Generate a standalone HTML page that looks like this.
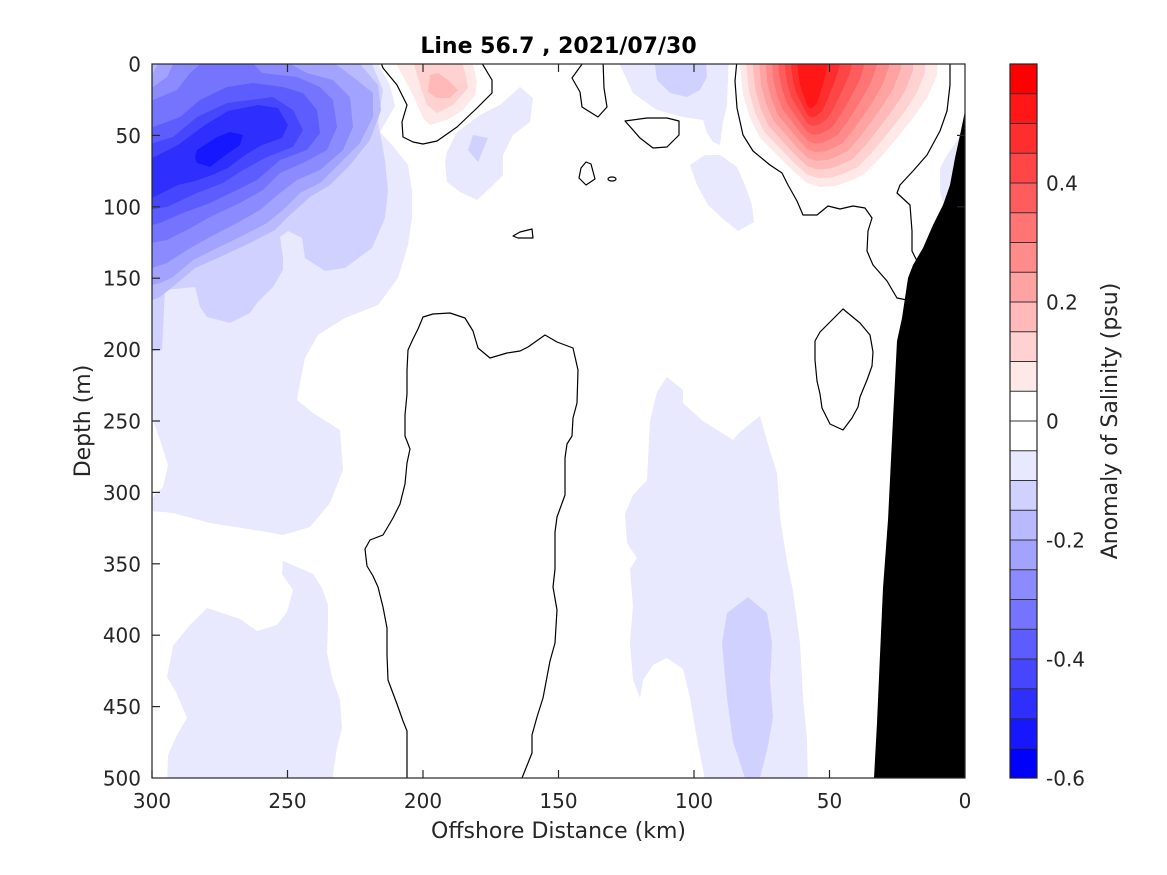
<!DOCTYPE html>
<html><head><meta charset="utf-8"><style>
html,body{margin:0;padding:0;background:#fff;}
svg{display:block;}
text{font-family:"DejaVu Sans","Liberation Sans",sans-serif;fill:#262626;}
</style></head><body>
<svg width="1167" height="875" viewBox="0 0 1167 875" xmlns="http://www.w3.org/2000/svg">
<defs>
<clipPath id="ax"><rect x="152" y="64" width="813" height="714"/></clipPath>
<path id="rb" d="M738,50 L740,65 743,95 750,118 760,138 777,155 793,171 807,183 820,187 835,186 847,182 863,175 880,158 897,138 913,118 927,98 937,75 938,50 Z"/>
</defs>
<rect width="1167" height="875" fill="#fff"/>
<g clip-path="url(#ax)">
<!-- upper-left blue blob -->
<polygon fill="#e8e8ff" points="140,50 376,50 378,64 390,85 395,106 380,132 392,145 408,165 412,191 412,218 408,245 398,278 378,305 345,318 318,335 305,358 300,383 297,400 313,413 340,430 343,470 330,503 310,527 283,535 267,532 210,523 173,513 140,510"/>
<polygon fill="#fff" points="140,418 153,420 160,440 168,465 163,487 153,497 140,497"/>
<polygon fill="#d1d1ff" points="140,50 370,50 372,64 383,90 378,122 385,160 388,191 385,218 372,248 345,268 325,271 305,258 302,238 288,231 280,237 283,257 283,270 273,287 257,303 250,313 230,323 207,317 200,307 195,287 165,290 162,350 140,353"/>
<polygon fill="#b9b9ff" points="140,50 358,50 360,64 378,85 381,110 370,140 350,165 330,185 310,197 290,215 275,230 250,243 220,257 195,268 175,285 160,297 140,305"/>
<polygon fill="#a2a2ff" points="140,75 153,73 160,60 330,60 353,77 373,93 373,117 360,143 340,163 320,183 300,193 283,210 267,223 240,237 213,250 193,260 173,277 160,283 140,288"/>
<polygon fill="#8b8bff" points="140,88 153,87 167,77 175,60 283,60 307,73 333,80 350,97 353,127 343,150 320,170 297,180 280,193 260,210 237,223 210,237 187,250 167,263 140,272"/>
<polygon fill="#7474ff" points="140,101 153,100 177,90 190,73 205,60 250,60 262,73 297,77 320,87 333,100 337,127 327,150 303,163 280,173 263,190 240,203 210,217 187,230 167,240 140,245"/>
<polygon fill="#5d5dff" points="140,128 153,127 180,117 200,100 227,87 253,83 283,87 303,93 317,110 320,133 307,150 280,160 257,180 237,190 210,203 183,213 160,223 140,228"/>
<polygon fill="#4646ff" points="140,144 153,143 173,137 197,117 227,103 250,100 273,97 293,110 303,130 293,147 267,157 243,170 223,183 197,193 167,207 140,211"/>
<polygon fill="#2e2eff" points="140,158 152,158 178,145 205,125 228,111 258,105 278,108 288,125 282,138 262,145 245,155 228,168 212,175 195,181 178,185 152,198 140,200"/>
<polygon fill="#1717ff" points="195,157 197,150 217,137 230,132 243,135 240,145 223,157 210,167 197,163"/>
<!-- lower-left light blue -->
<polygon fill="#e8e8ff" points="283,561 297,567 313,574 322,588 328,605 328,625 327,653 332,677 340,700 342,728 337,748 333,774 332,790 167,790 168,755 177,735 187,718 177,694 167,677 173,646 190,625 207,608 240,619 257,631 277,625 287,612 293,590 282,574"/>
<!-- region 2 -->
<polygon fill="#e8e8ff" points="447,152 457,132 480,115 500,105 520,87 533,98 530,122 513,135 503,155 503,175 490,188 477,200 460,192 447,182 445,162"/>
<polygon fill="#d1d1ff" points="468,150 473,135 488,138 478,162"/>
<!-- region 3 -->
<polygon fill="#e8e8ff" points="617,50 620,65 633,93 657,110 683,117 703,120 707,133 713,142 720,145 723,122 727,105 729,50"/>
<polygon fill="#d1d1ff" points="653,50 657,80 670,93 687,97 700,90 707,77 705,50"/>
<!-- region 4 -->
<polygon fill="#e8e8ff" points="690,165 705,155 720,155 737,167 745,185 752,205 754,222 738,231 722,218 708,205 697,185"/>
<!-- region near seafloor -->
<polygon fill="#e8e8ff" points="940,168 947,155 957,141 962,130 955,158 950,185 943,203 940,191"/>
<!-- region 6 middle-bottom -->
<polygon fill="#e8e8ff" points="667,377 683,390 683,403 703,421 733,440 740,432 760,416 770,451 777,473 780,517 787,562 793,591 800,643 803,698 807,739 808,790 707,790 697,739 690,698 683,669 667,658 653,665 643,680 640,698 633,680 630,643 633,606 630,569 637,558 627,543 625,514 633,495 647,480 650,421 657,392"/>
<polygon fill="#d1d1ff" points="748,597 767,613 772,643 770,680 773,717 768,746 760,778 760,790 745,790 745,778 733,742 727,698 722,643 727,613"/>
<!-- red blob 1 -->
<polygon fill="#ffe8e8" points="397,50 397,65 413,95 423,118 430,125 447,120 463,110 475,95 477,82 470,50"/>
<polygon fill="#ffd1d1" points="410,50 420,85 427,105 437,113 453,105 468,88 465,72 458,50"/>
<polygon fill="#ffb9b9" points="430,75 428,92 437,98 450,98 458,90 448,80 438,73"/>
<!-- red blob 2 -->
<use href="#rb" fill="#ffe8e8"/>
<use href="#rb" fill="#ffd1d1" transform="translate(75.14,2.37) scale(0.907,0.9407)"/>
<use href="#rb" fill="#ffb9b9" transform="translate(150.29,4.74) scale(0.814,0.8814)"/>
<use href="#rb" fill="#ffa2a2" transform="translate(225.43,7.12) scale(0.721,0.8221)"/>
<use href="#rb" fill="#ff8b8b" transform="translate(300.58,9.49) scale(0.628,0.7628)"/>
<use href="#rb" fill="#ff7474" transform="translate(375.72,11.86) scale(0.535,0.7035)"/>
<use href="#rb" fill="#ff5d5d" transform="translate(450.86,14.23) scale(0.442,0.6442)"/>
<use href="#rb" fill="#ff4646" transform="translate(526.01,16.60) scale(0.349,0.5849)"/>
<use href="#rb" fill="#ff2e2e" transform="translate(601.15,18.98) scale(0.256,0.5256)"/>
<use href="#rb" fill="#ff1717" transform="translate(676.30,21.35) scale(0.163,0.4663)"/>
<!-- seafloor -->
<polygon fill="#000" points="965,111 960,135 955,158 950,185 943,205 933,225 923,248 913,265 908,278 905,298 902,318 897,341 893,419 888,520 883,588 880,655 877,723 874,778 874,790 970,790 970,111"/>
<!-- contours -->
<g fill="none" stroke="#000" stroke-width="1.2" stroke-linejoin="round">
<polyline points="380,60 383,68 397,85 407,105 402,122 403,137 413,142 423,144 437,141 457,127 477,108 492,93 492,80 480,60"/>
<polyline points="585,60 572,78 580,92 582,107 598,117 607,107 604,88 603,60"/>
<polygon points="625,121 647,118 667,118 679,121 679,135 667,147 653,148 640,138 633,130"/>
<polygon points="586,162 591,164 595,179 586,185 579,178 581,168"/>
<ellipse cx="612" cy="179" rx="4" ry="2"/>
<polygon points="513,236 520,232 532,229 533,238 518,238"/>
<polyline points="737,60 735,81 737,108 743,135 753,151 770,165 782,173 788,185 797,201 803,215 817,215 828,206 840,209 853,206 865,208 872,218 868,231 867,251 873,265 887,281 897,298 907,300"/>
<polyline points="917,261 912,251 912,231 910,205 897,193 900,185 913,171 927,155 940,131 947,111 950,85 950,60"/>
<polygon points="843,309 860,323 870,335 873,352 872,366 867,380 860,397 858,407 852,418 843,430 830,424 822,408 820,394 817,381 815,360 815,341 820,332 833,319"/>
<polyline points="407,790 407,731 403,721 397,704 388,680 387,655 387,628 383,607 378,587 373,576 367,566 365,549 370,540 383,535 393,518 400,504 405,484 407,463 410,449 405,436 405,415 407,394 407,370 408,350 413,339 418,329 423,317 433,314 450,313 465,318 473,331 478,348 490,358 507,353 520,351 528,347 545,335 557,342 573,348 578,370 577,403 573,418 572,436 567,444 565,458 565,495 557,517 555,532 555,569 553,587 557,610 555,643 550,661 543,698 537,717 532,735 532,753 522,778 518,790"/>
</g>
</g>
<!-- axes box -->
<rect x="152" y="64" width="813" height="714" fill="none" stroke="#262626" stroke-width="1.2"/>
<g stroke="#262626" stroke-width="1.2">
<line x1="152" y1="778" x2="152" y2="770"/><line x1="287.5" y1="778" x2="287.5" y2="770"/><line x1="423" y1="778" x2="423" y2="770"/><line x1="558.5" y1="778" x2="558.5" y2="770"/><line x1="694" y1="778" x2="694" y2="770"/><line x1="829.5" y1="778" x2="829.5" y2="770"/>
<line x1="287.5" y1="64" x2="287.5" y2="72"/><line x1="423" y1="64" x2="423" y2="72"/><line x1="558.5" y1="64" x2="558.5" y2="72"/><line x1="694" y1="64" x2="694" y2="72"/><line x1="829.5" y1="64" x2="829.5" y2="72"/>
<line x1="152" y1="135.4" x2="160" y2="135.4"/><line x1="152" y1="206.8" x2="160" y2="206.8"/><line x1="152" y1="278.2" x2="160" y2="278.2"/><line x1="152" y1="349.6" x2="160" y2="349.6"/><line x1="152" y1="421" x2="160" y2="421"/><line x1="152" y1="492.4" x2="160" y2="492.4"/><line x1="152" y1="563.8" x2="160" y2="563.8"/><line x1="152" y1="635.2" x2="160" y2="635.2"/><line x1="152" y1="706.6" x2="160" y2="706.6"/>
<line x1="965" y1="135.4" x2="957" y2="135.4"/><line x1="965" y1="206.8" x2="957" y2="206.8"/>
</g>
<!-- tick labels -->
<g font-size="20" text-anchor="middle">
<text x="152" y="808">300</text><text x="287.5" y="808">250</text><text x="423" y="808">200</text><text x="558.5" y="808">150</text><text x="694" y="808">100</text><text x="829.5" y="808">50</text><text x="965" y="808">0</text>
</g>
<g font-size="20" text-anchor="end">
<text x="141" y="71.5">0</text><text x="141" y="142.9">50</text><text x="141" y="214.3">100</text><text x="141" y="285.7">150</text><text x="141" y="357.1">200</text><text x="141" y="428.5">250</text><text x="141" y="499.9">300</text><text x="141" y="571.3">350</text><text x="141" y="642.7">400</text><text x="141" y="714.1">450</text><text x="141" y="785.5">500</text>
</g>
<text x="558.5" y="838" font-size="22" text-anchor="middle">Offshore Distance (km)</text>
<text transform="translate(90,421) rotate(-90)" font-size="22" text-anchor="middle">Depth (m)</text>
<text x="558.5" y="53" font-size="22" font-weight="bold" text-anchor="middle" style="fill:#000">Line 56.7 , 2021/07/30</text>
<!-- colorbar -->
<g>
<rect x="1010" y="64" width="27" height="29.75" fill="#ff0000"/>
<rect x="1010" y="93.75" width="27" height="29.75" fill="#ff1717"/>
<rect x="1010" y="123.5" width="27" height="29.75" fill="#ff2e2e"/>
<rect x="1010" y="153.25" width="27" height="29.75" fill="#ff4646"/>
<rect x="1010" y="183" width="27" height="29.75" fill="#ff5d5d"/>
<rect x="1010" y="212.75" width="27" height="29.75" fill="#ff7474"/>
<rect x="1010" y="242.5" width="27" height="29.75" fill="#ff8b8b"/>
<rect x="1010" y="272.25" width="27" height="29.75" fill="#ffa2a2"/>
<rect x="1010" y="302" width="27" height="29.75" fill="#ffb9b9"/>
<rect x="1010" y="331.75" width="27" height="29.75" fill="#ffd1d1"/>
<rect x="1010" y="361.5" width="27" height="29.75" fill="#ffe8e8"/>
<rect x="1010" y="391.25" width="27" height="59.5" fill="#ffffff"/>
<rect x="1010" y="450.75" width="27" height="29.75" fill="#e8e8ff"/>
<rect x="1010" y="480.5" width="27" height="29.75" fill="#d1d1ff"/>
<rect x="1010" y="510.25" width="27" height="29.75" fill="#b9b9ff"/>
<rect x="1010" y="540" width="27" height="29.75" fill="#a2a2ff"/>
<rect x="1010" y="569.75" width="27" height="29.75" fill="#8b8bff"/>
<rect x="1010" y="599.5" width="27" height="29.75" fill="#7474ff"/>
<rect x="1010" y="629.25" width="27" height="29.75" fill="#5d5dff"/>
<rect x="1010" y="659" width="27" height="29.75" fill="#4646ff"/>
<rect x="1010" y="688.75" width="27" height="29.75" fill="#2e2eff"/>
<rect x="1010" y="718.5" width="27" height="29.75" fill="#1717ff"/>
<rect x="1010" y="748.25" width="27" height="29.75" fill="#0000ff"/>
</g>
<g stroke="#333" stroke-width="1">
<line x1="1010" x2="1037" y1="93.75" y2="93.75"/><line x1="1010" x2="1037" y1="123.5" y2="123.5"/><line x1="1010" x2="1037" y1="153.25" y2="153.25"/><line x1="1010" x2="1037" y1="183" y2="183"/><line x1="1010" x2="1037" y1="212.75" y2="212.75"/><line x1="1010" x2="1037" y1="242.5" y2="242.5"/><line x1="1010" x2="1037" y1="272.25" y2="272.25"/><line x1="1010" x2="1037" y1="302" y2="302"/><line x1="1010" x2="1037" y1="331.75" y2="331.75"/><line x1="1010" x2="1037" y1="361.5" y2="361.5"/><line x1="1010" x2="1037" y1="391.25" y2="391.25"/><line x1="1010" x2="1037" y1="421" y2="421"/><line x1="1010" x2="1037" y1="450.75" y2="450.75"/><line x1="1010" x2="1037" y1="480.5" y2="480.5"/><line x1="1010" x2="1037" y1="510.25" y2="510.25"/><line x1="1010" x2="1037" y1="540" y2="540"/><line x1="1010" x2="1037" y1="569.75" y2="569.75"/><line x1="1010" x2="1037" y1="599.5" y2="599.5"/><line x1="1010" x2="1037" y1="629.25" y2="629.25"/><line x1="1010" x2="1037" y1="659" y2="659"/><line x1="1010" x2="1037" y1="688.75" y2="688.75"/><line x1="1010" x2="1037" y1="718.5" y2="718.5"/><line x1="1010" x2="1037" y1="748.25" y2="748.25"/>
</g>
<rect x="1010" y="64" width="27" height="714" fill="none" stroke="#262626" stroke-width="1.2"/>
<g font-size="20">
<text x="1046" y="190.5">0.4</text><text x="1046" y="309.5">0.2</text><text x="1046" y="428.5">0</text><text x="1046" y="547.5">-0.2</text><text x="1046" y="666.5">-0.4</text><text x="1046" y="785.5">-0.6</text>
</g>
<text transform="translate(1117,421) rotate(-90)" font-size="22" text-anchor="middle">Anomaly of Salinity (psu)</text>
</svg>
</body></html>
